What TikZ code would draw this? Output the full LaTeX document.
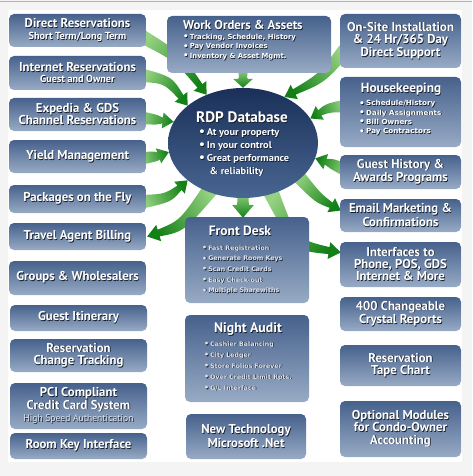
\documentclass[tikz,border=0pt]{standalone}
\usepackage{fontspec}
\setmainfont{PT Sans}
\newfontfamily\smf{DejaVu Sans}
\usetikzlibrary{calc,shapes.geometric}
\pgfdeclarelayer{bgl}
\pgfdeclarelayer{arr}
\pgfsetlayers{bgl,arr,main}
\definecolor{btop}{RGB}{70,97,140}
\definecolor{bbot}{RGB}{152,171,197}
\definecolor{etop}{RGB}{26,48,88}
\definecolor{ebot}{RGB}{72,102,146}
\definecolor{glight}{RGB}{150,210,130}
\definecolor{gdark}{RGB}{18,128,22}
\definecolor{bgout}{RGB}{244,244,244}
\definecolor{subc}{RGB}{222,228,236}
\definecolor{shadowc}{RGB}{20,28,40}
\newcommand\sh[1]{\leavevmode\rlap{\kern0.7pt\raisebox{-0.7pt}{\color{shadowc}#1}}#1}
\newcommand\bu{\raisebox{-0.1ex}{\scalebox{1.25}{•}}\,}
\newcommand\tf{\fontsize{12.8}{12.4}\selectfont\bfseries}
\newcommand\sfnt{\fontsize{10.2}{10}\selectfont\bfseries}
\newcommand\bx[6]{\node[box, minimum width={(#4-#2)*1pt}, minimum height={(#5-#3)*1pt}] (#1) at ({(#2+#4)/2},{(#3+#5)/2}) {#6};}
\newcommand\blist[7]{\foreach[count=\i] \t in {#6} {\node[#5, anchor=base west] (#1\i) at (#2,{#3+(\i-1)*#4}) {\sh{\scalebox{#7}[1]{\bu\t}}};}}
\newcommand\garrow[8]{%
  \coordinate (gS) at #1;
  \coordinate (gC) at #2;
  \coordinate (gE) at #3;
  \coordinate (gB) at ($(gE)!#7!(gC)$);
  \path[top color=gdark, bottom color=glight, shading angle=#8]
    ($(gS)!#4pt!90:(gC)$) .. controls ($(gC)!0.75*#4pt!90:(gE)$) .. ($(gB)!#5pt!90:(gE)$)
    -- ($(gB)!#6pt!90:(gE)$) -- (gE) -- ($(gB)!#6pt!-90:(gE)$) -- ($(gB)!#5pt!-90:(gE)$)
    .. controls ($(gC)!0.75*#4pt!-90:(gE)$) .. ($(gS)!#4pt!-90:(gC)$) -- cycle;}
\begin{document}
\begin{tikzpicture}[x=1pt,y=-1pt,
  box/.style={rounded corners=5pt, top color=btop, bottom color=bbot, inner sep=0pt, text=white, font=\tf, align=center},
  ttl/.style={inner sep=0pt, text=white, font=\tf},
  bl8/.style={inner sep=0pt, text=white, font=\smf\fontsize{7}{8}\selectfont\bfseries},
  bl9/.style={inner sep=0pt, text=white, font=\fontsize{9.8}{11}\selectfont\bfseries},
  bl7/.style={inner sep=0pt, text=subc, font=\smf\fontsize{6.3}{7}\selectfont\bfseries}]
\useasboundingbox (0,0) rectangle (472,476);
\begin{pgfonlayer}{bgl}
\fill[bgout] (0,0) rectangle (472,476);
\fill[white] (8,10) rectangle (462,462);
\draw[black!30, line width=1pt] (0,1.5) -- (472,1.5);
\end{pgfonlayer}
% left column
\bx{dr}{9}{14}{146}{47}{\sh{Direct Reservations}\\[-1pt]{\sfnt\sh{Short Term/Long Term}}}
\bx{ir}{9}{56}{146}{90}{\sh{Internet Reservations}\\[-1pt]{\sfnt\sh{Guest and Owner}}}
\bx{ex}{9}{98}{146}{131}{\sh{Expedia \& GDS}\\\sh{Channel Reservations}}
\bx{ym}{9}{140}{146}{173}{\sh{Yield Management}}
\bx{pk}{9}{185}{146}{213}{\sh{Packages on the Fly}}
\bx{ta}{9}{223}{146}{250}{\sh{Travel Agent Billing}}
\bx{gw}{9}{261}{146}{295}{\sh{Groups \& Wholesalers}}
\bx{gi}{10}{305}{147}{331}{\sh{Guest Itinerary}}
\bx{rc}{10}{339}{147}{372}{\sh{Reservation}\\\sh{Change Tracking}}
\bx{pci}{10}{383}{147}{429}{\sh{PCI Compliant}\\\sh{Credit Card System}\\[0pt]{\fontsize{9.6}{9}\selectfont\mdseries\color{subc}\sh{High Speed Authentication}}}
\bx{rk}{10}{433}{147}{459}{\sh{Room Key Interface}}
% right column
\bx{os}{340}{14}{461}{68}{\sh{On-Site Installation}\\\sh{\& 24 Hr/365 Day}\\\sh{Direct Support}}
\bx{hk}{340}{77}{461}{147}{}
\bx{gh}{340}{155}{461}{189}{\sh{Guest History \&}\\\sh{Awards Programs}}
\bx{em}{340}{199}{461}{232}{\sh{Email Marketing \&}\\\sh{Confirmations}}
\bx{if}{340}{242}{461}{287}{\sh{Interfaces to}\\\sh{Phone, POS, GDS}\\\sh{Internet \& More}}
\bx{cr}{340}{297}{461}{331}{\sh{400 Changeable}\\\sh{Crystal Reports}}
\bx{tc}{340}{345}{461}{386}{\sh{Reservation}\\\sh{Tape Chart}}
\bx{om}{340}{401}{461}{457}{\sh{Optional Modules}\\\sh{for Condo-Owner}\\\sh{Accounting}}
% centre column
\bx{wo}{167}{16}{331}{73}{}
\bx{fd}{185}{217}{309}{303}{}
\bx{na}{185}{315}{309}{402}{}
\bx{nt}{186}{414}{306}{459}{\sh{New Technology}\\\sh{Microsoft .Net}}
\node[ellipse, top color=etop, bottom color=ebot, minimum width=150pt, minimum height=110pt, inner sep=0pt] (db) at (243,143) {};
% texts inside
\node[ttl, anchor=base west] (wot) at (183,29.5) {\sh{Work Orders \& Assets}};
\blist{wol}{183}{39.5}{9.5}{bl8}{{Tracking, Schedule, History},{Pay Vendor Invoices},{Inventory \& Asset Mgmt.}}{0.98}
\node[ttl, anchor=base, font=\fontsize{13.3}{13}\selectfont\bfseries] (hkt) at (401,92.5) {\sh{Housekeeping}};
\blist{hkl}{359}{106}{9.3}{bl8}{{Schedule/History},{Daily Assignments},{Bill Owners},{Pay Contractors}}{1.03}
\node[ttl, anchor=base, font=\fontsize{15.2}{15}\selectfont\bfseries] (dbt) at (242,122.5) {\sh{RDP Database}};
\blist{dbl}{199}{135.5}{13}{bl9}{{At your property},{In your control},{Great performance}}{1.06}
\node[bl9, anchor=base west] (dbl4) at (209.5,174) {\sh{\scalebox{1.06}[1]{\& reliability}}};
\node[ttl, anchor=base, font=\fontsize{13.5}{13}\selectfont\bfseries] (fdt) at (240,235.5) {\sh{Front Desk}};
\blist{fdl}{202}{250}{10.7}{bl7}{{Fast Registration},{Generate Room Keys},{Scan Credit Cards},{Easy Check-out},{Multiple Sharewiths}}{1}
\node[ttl, anchor=base, font=\fontsize{13.8}{13}\selectfont\bfseries] (nat) at (248,332.5) {\sh{Night Audit}};
\blist{nal}{204}{346}{11}{bl7}{{Cashier Balancing},{City Ledger},{Store Folios Forever},{Over Credit Limit Rpts.},{G/L Interface}}{1}
% arrows
\begin{pgfonlayer}{arr}
\garrow{($(dr.east)+(-6,5)$)}{(178,57)}{(db.127)}{7}{3}{8}{11pt}{-131}
\garrow{($(ir.east)+(-6,2)$)}{(168,80)}{(db.146)}{7}{3}{8}{11pt}{-123}
\garrow{($(ex.east)+(-6,3)$)}{(158,120)}{(db.163)}{6.5}{3}{8}{11pt}{-97}
\garrow{($(ym.east)+(-6,2)$)}{(158,156)}{(db.187)}{6.5}{3}{8}{11pt}{-77}
\garrow{($(pk.east)+(-6,3)$)}{(168,198)}{(db.214)}{7}{3}{8}{11pt}{-65}
\garrow{($(db.center)!0.9!(db.235)$)}{(182,226)}{($(ta.east)+(1,0)$)}{8}{3.5}{8.5}{12pt}{125}
\garrow{($(wo.south)+(-6,-4)$)}{(243,79)}{(db.90)}{5}{5}{10}{9pt}{180}
\garrow{($(os.west)+(5,9)$)}{(322,78)}{(db.48)}{7}{3}{8}{11pt}{128}
\garrow{($(hk.west)+(6,-6)$)}{(328,108)}{(db.20)}{6.5}{3}{8}{11pt}{109}
\garrow{($(gh.west)+(6,-2)$)}{(330,163)}{(db.-12)}{6.5}{3}{8}{11pt}{69}
\garrow{($(db.center)!0.9!(db.-30)$)}{(318,198)}{($(em.west)+(1,-5)$)}{7}{3}{8}{11pt}{-130}
\garrow{($(db.center)!0.9!(db.-60)$)}{(295,245)}{($(if.west)+(1,-12)$)}{8}{3.5}{8.5}{12pt}{-130}
\garrow{($(db.270)+(0,-6)$)}{(243,199)}{($(fd.north)+(-4,1)$)}{7}{6}{11}{13pt}{180}
\end{pgfonlayer}
\end{tikzpicture}
\end{document}
